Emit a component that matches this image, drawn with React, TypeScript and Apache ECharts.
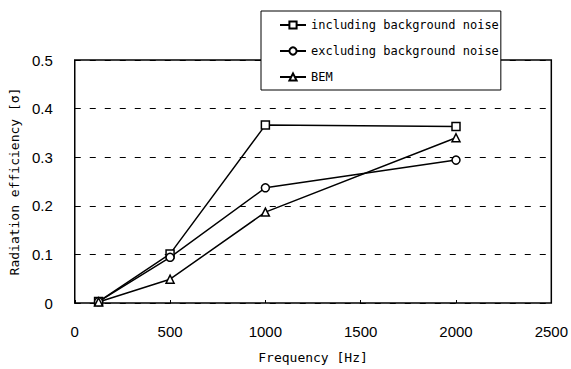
import React, { useEffect, useRef } from "react";
import * as echarts from "echarts";

const frequencies = [125, 500, 1000, 2000];
const includingNoise = [0.003, 0.101, 0.366, 0.363];
const excludingNoise = [0.003, 0.094, 0.237, 0.294];
const bem = [0.002, 0.049, 0.187, 0.34];
const seriesNames = ["including background noise", "excluding background noise", "BEM"];

const tickFont = "Liberation Sans";
const textFont = "DejaVu Sans Mono";

export default function App() {
  const ref = useRef<HTMLDivElement>(null);
  useEffect(() => {
    if (!ref.current) return;
    const chart = echarts.init(ref.current, undefined, { renderer: "svg" });
    const mk = (name: string, vals: number[], symbol: string, size: number) => ({
      name,
      type: "line",
      data: frequencies.map((f, i) => [f, vals[i]]),
      symbol,
      symbolSize: size,
      showAllSymbol: true,
      color: "#000",
      lineStyle: { color: "#000", width: 1.5 },
      itemStyle: { color: "#fff", borderColor: "#000", borderWidth: 1.5 },
    });
    chart.setOption({
      animation: false,
      backgroundColor: "#fff",
      grid: {
        left: 68,
        right: 17,
        top: 60,
        bottom: 65,
        show: true,
        borderColor: "#000",
        borderWidth: 1.5,
        backgroundColor: "transparent",
      },
      legend: {
        orient: "vertical",
        left: 261,
        top: 11,
        data: seriesNames,
        backgroundColor: "#fff",
        borderColor: "#000",
        borderWidth: 1,
        borderRadius: 0,
        padding: [8, 2, 7, 18],
        itemGap: 14,
        itemWidth: 26,
        itemHeight: 9,
        textStyle: { fontFamily: textFont, fontSize: 12, color: "#000" },
      },
      xAxis: {
        type: "value",
        min: 0,
        max: 2500,
        interval: 500,
        name: "Frequency [Hz]",
        nameLocation: "middle",
        nameGap: 48,
        nameTextStyle: { fontFamily: textFont, fontSize: 13, color: "#000" },
        axisLine: { show: false },
        axisTick: { show: true, inside: true, length: 3, lineStyle: { color: "#000" } },
        axisLabel: {
          fontFamily: tickFont,
          fontSize: 15,
          color: "#000",
          margin: 21,
          formatter: (v: number) => String(v),
        },
        splitLine: { show: false },
      },
      yAxis: {
        type: "value",
        min: 0,
        max: 0.5,
        interval: 0.1,
        name: "Radiation efficiency [σ]",
        nameLocation: "middle",
        nameRotate: 90,
        nameGap: 43,
        nameTextStyle: { fontFamily: textFont, fontSize: 13, color: "#000" },
        axisLine: { show: false },
        axisTick: { show: true, inside: true, length: 3, lineStyle: { color: "#000" } },
        axisLabel: {
          fontFamily: tickFont,
          fontSize: 15,
          color: "#000",
          margin: 22,
          formatter: (v: number) => (v === 0 ? "0" : v.toFixed(1)),
        },
        splitLine: { show: true, lineStyle: { color: "#000", width: 1, type: [6, 9] } },
      },
      series: [
        mk(seriesNames[0], includingNoise, "rect", 8),
        mk(seriesNames[1], excludingNoise, "circle", 8),
        mk(seriesNames[2], bem, "triangle", 8),
      ],
    });
    return () => chart.dispose();
  }, []);
  return <div ref={ref} style={{ width: 571, height: 369, position: "absolute", left: 0, top: 0 }} />;
}
